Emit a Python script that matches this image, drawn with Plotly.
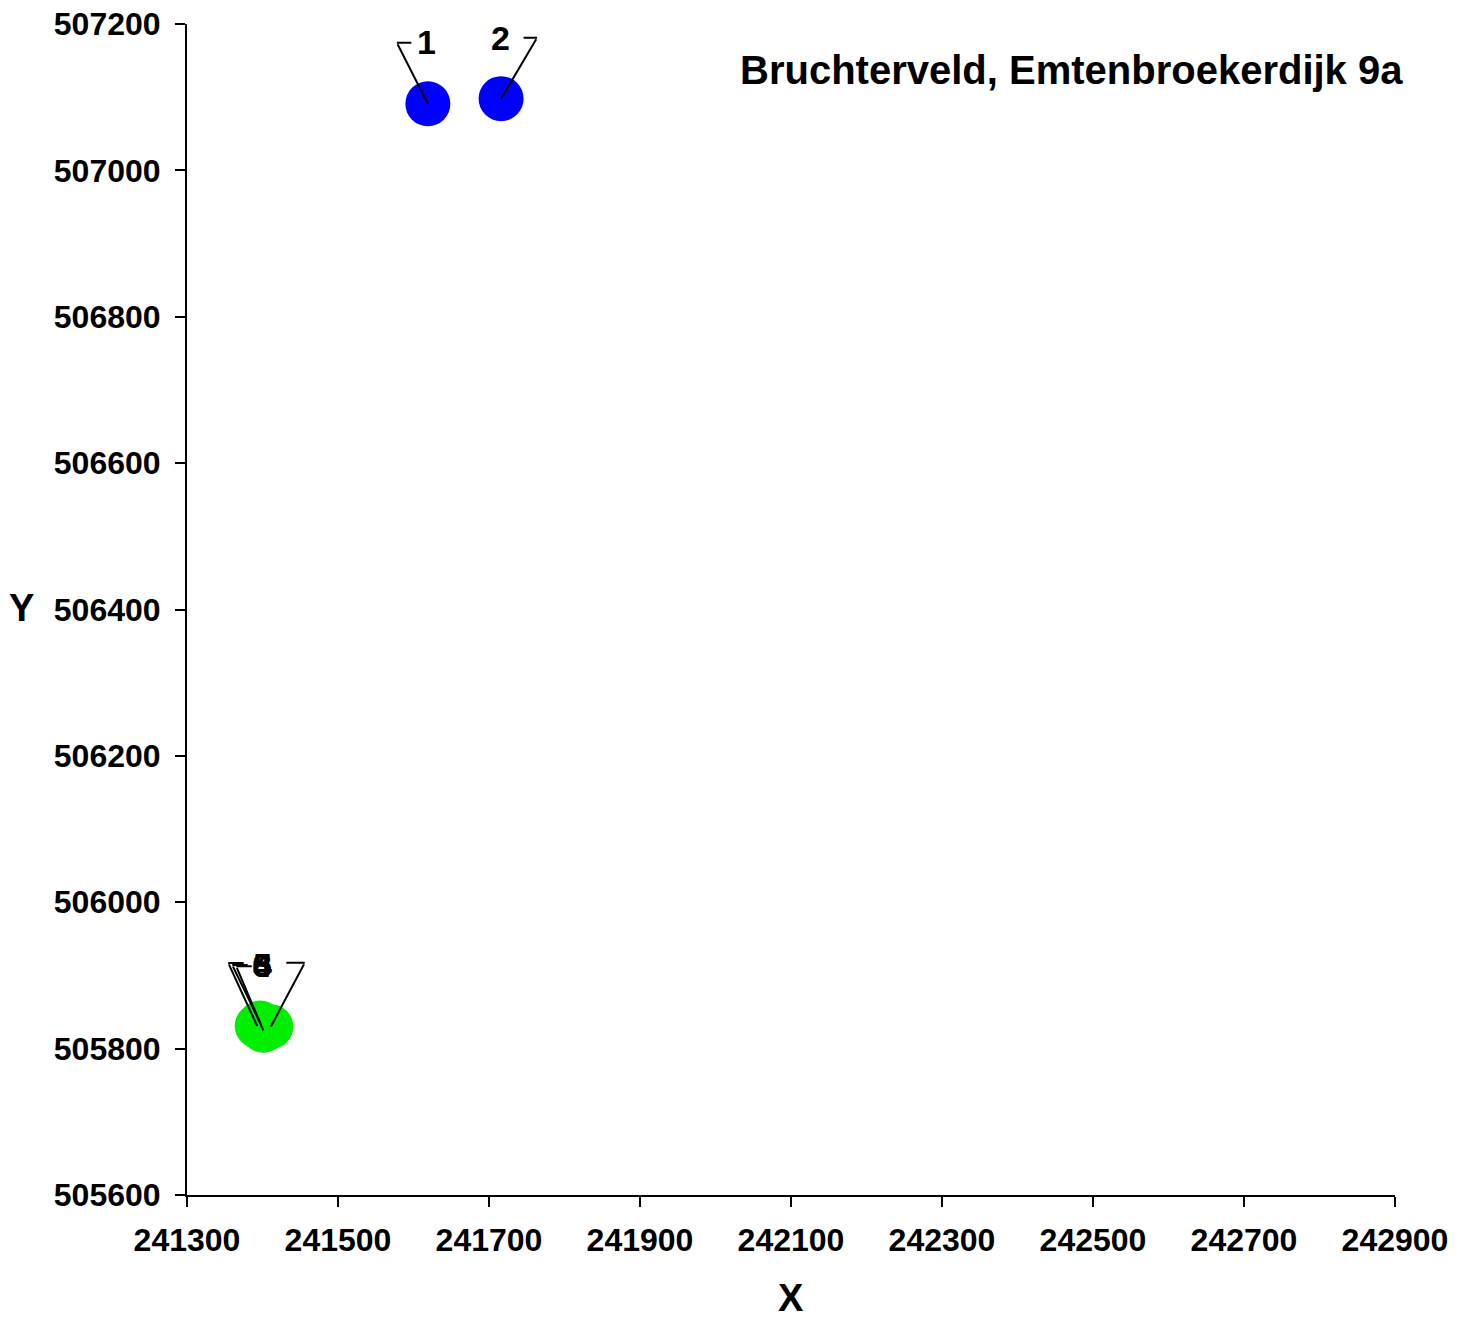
import plotly.graph_objects as go

# ---- data ----
labels = ["1", "2", "3", "4", "5", "6"]
x_vals = [241619, 241716, 241393, 241397, 241401, 241411]
y_vals = [507091, 507098, 505831, 505835, 505825, 505830]
groups = ["blue", "blue", "green", "green", "green", "green"]
x_ticks = [241300, 241500, 241700, 241900, 242100, 242300, 242500, 242700, 242900]
y_ticks = [505600, 505800, 506000, 506200, 506400, 506600, 506800, 507000, 507200]
title_text = "Bruchterveld, Emtenbroekerdijk 9a"

# ---- style (pixel offsets for leader lines / labels) ----
colors = {"blue": "#0000FF", "green": "#00EE00"}
# (elbow dx, elbow dy, horizontal length, label dx, label dy)
leader_style = [
    (-31, -61, 16, -1, -62),
    (36, -61, -15, -1, -61),
    (-29, -63, 17, 5, -61),
    (-28, -58, 17, 2, -58),
    (-27, -64, 17, -1, -65),
    (34, -64, -20, -9, -62),
]

FONT = "Liberation Sans"

fig = go.Figure()
for g in ["blue", "green"]:
    idx = [i for i, gg in enumerate(groups) if gg == g]
    fig.add_trace(go.Scatter(
        x=[x_vals[i] for i in idx], y=[y_vals[i] for i in idx],
        mode="markers",
        marker=dict(size=45, color=colors[g], line=dict(width=0)),
        showlegend=False, hoverinfo="skip"))

annotations = []
for i, lab in enumerate(labels):
    edx, edy, hl, ldx, ldy = leader_style[i]
    annotations.append(dict(x=x_vals[i], y=y_vals[i], xref="x", yref="y",
                            text="", showarrow=True, arrowhead=0, arrowwidth=2,
                            arrowcolor="black", ax=edx, ay=edy, axref="pixel", ayref="pixel",
                            standoff=0, startstandoff=0))
    annotations.append(dict(x=x_vals[i], y=y_vals[i], xref="x", yref="y",
                            xshift=edx, yshift=-edy,
                            text="", showarrow=True, arrowhead=0, arrowwidth=2,
                            arrowcolor="black", ax=hl, ay=0, axref="pixel", ayref="pixel",
                            standoff=0, startstandoff=0))
    annotations.append(dict(x=x_vals[i], y=y_vals[i], xref="x", yref="y",
                            xshift=ldx, yshift=-ldy, showarrow=False,
                            text=lab, font=dict(family=FONT, size=34, color="black", weight="bold"),
                            xanchor="center", yanchor="middle"))

annotations.append(dict(x=1.008, y=0.9607, xref="paper", yref="paper", showarrow=False,
                        text=title_text, xanchor="right", yanchor="middle",
                        font=dict(family=FONT, size=40, color="black", weight="bold")))
annotations.append(dict(x=0.5, y=-0.088, xref="paper", yref="paper", showarrow=False,
                        text="X", xanchor="center", yanchor="middle",
                        font=dict(family=FONT, size=38, color="black", weight="bold")))
annotations.append(dict(x=-0.137, y=0.501, xref="paper", yref="paper", showarrow=False,
                        text="Y", xanchor="center", yanchor="middle",
                        font=dict(family=FONT, size=38, color="black", weight="bold")))

axis_common = dict(showgrid=False, zeroline=False, showline=True, linecolor="black",
                   linewidth=2, ticks="outside", ticklen=10, tickwidth=2, tickcolor="black",
                   tickfont=dict(family=FONT, size=32, color="black", weight="bold"),
                   tickformat="d", automargin=False, ticklabeloverflow="allow")

fig.update_layout(
    width=1468, height=1321,
    margin=dict(l=187, r=73, t=24, b=126),
    plot_bgcolor="white", paper_bgcolor="white",
    xaxis=dict(range=[241300, 242900], tickvals=x_ticks, ticklabelstandoff=6, **axis_common),
    yaxis=dict(range=[505600, 507200], tickvals=y_ticks, ticklabelstandoff=8, **axis_common),
    annotations=annotations,
)

fig.write_html("out.html",
               config={"displayModeBar": False},
               post_script="document.body.style.margin='0';document.body.style.overflow='hidden';")
